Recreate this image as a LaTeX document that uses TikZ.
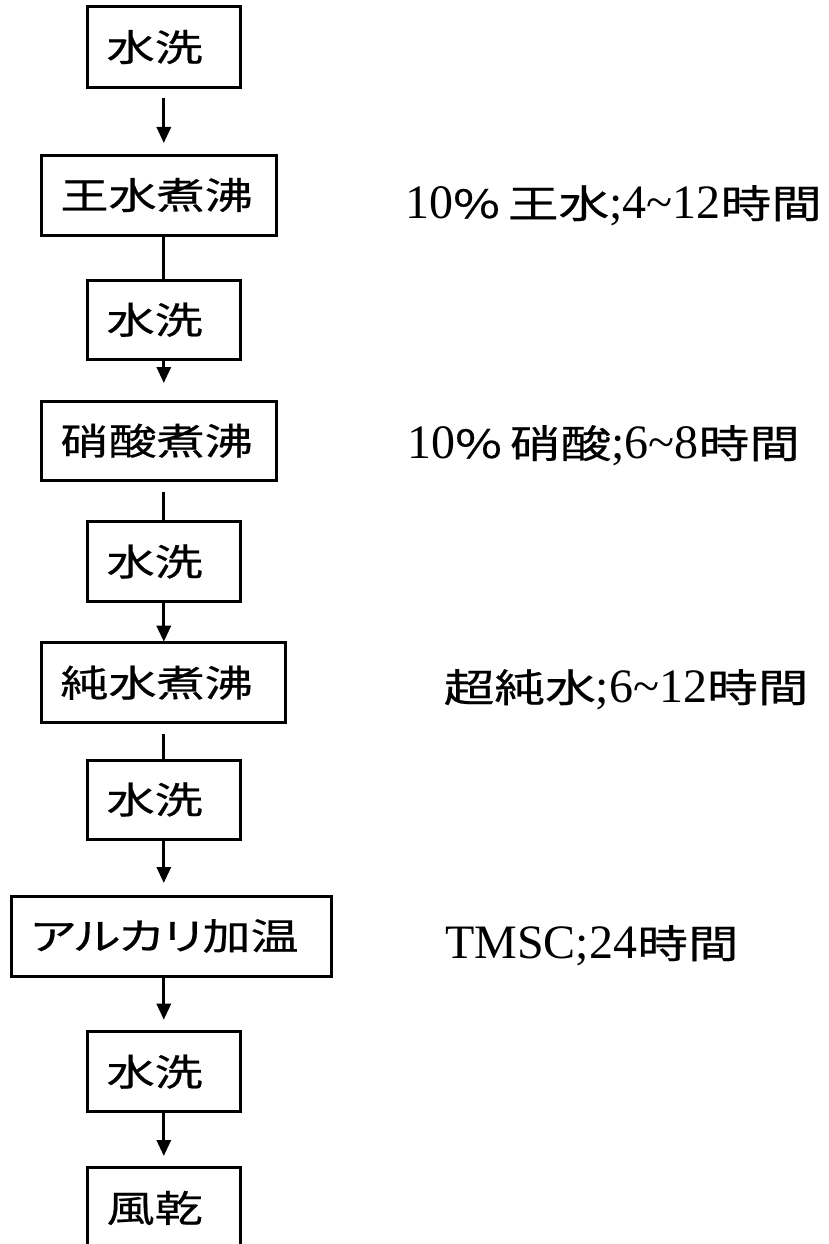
\documentclass[tikz,border=0pt]{standalone}
\usepackage{fontspec}
\usetikzlibrary{arrows.meta}
\setmainfont{Liberation Serif}
\newfontfamily\jp[FakeStretch=1.3,FakeBold=0.5]{Noto Sans CJK JP}
\newfontfamily\jpp[FakeStretch=1.3,FakeBold=0.5,RawFeature=+palt]{Noto Sans CJK JP}
\newcommand\boxfont{\fontsize{37}{40}\jp}
\newcommand\Rt[1]{{\fontsize{48}{52}\selectfont #1}}
\newcommand\Jt[1]{{\fontsize{39}{44}\jp #1}}
\tikzset{
  box/.style={draw, line width=3pt, rectangle, inner xsep=19pt, inner ysep=0pt,
    outer sep=0pt, align=left, font=\boxfont, anchor=north west},
  ln/.style={line width=3pt},
  arr/.style={line width=3pt, -{Triangle[length=16pt,width=14pt]}},
  note/.style={anchor=base west, inner sep=0pt}
}
\begin{document}
\begin{tikzpicture}[x=1pt,y=1pt]
\useasboundingbox (0,0) rectangle (828,-1244);
\clip (0,0) rectangle (828,-1244);
% boxes
\node[box, text width=114.4pt, minimum height=80.6pt] (w1) at (87.6,-6.7) {水洗};
\node[box, text width=197.1pt, minimum height=80pt] (b1) at (41.4,-155) {王水煮沸};
\node[box, text width=114.4pt, minimum height=78.5pt] (w2) at (87.6,-280.5) {水洗};
\node[box, text width=197.1pt, minimum height=79.5pt] (b2) at (41.4,-401) {硝酸煮沸};
\node[box, text width=114.4pt, minimum height=80pt] (w3) at (87.6,-521.5) {水洗};
\node[box, text width=206.2pt, minimum height=80pt] (b3) at (41.4,-642.7) {純水煮沸};
\node[box, text width=114.4pt, minimum height=79pt] (w4) at (87.6,-760) {水洗};
\node[box, text width=282pt, minimum height=80pt, font=\fontsize{37}{40}\jpp] (b4) at (11.7,-896) {アルカリ加温};
\node[box, text width=114.4pt, minimum height=80pt] (w5) at (87.6,-1031.7) {水洗};
\node[box, text width=114.4pt, minimum height=82pt] (w6) at (87.6,-1167) {風乾};
% connectors
\draw[arr, shorten <=11pt, shorten >=12pt] (w1.south) -- (w1.south |- b1.north);
\draw[ln] (w2.north |- b1.south) -- (w2.north);
\draw[arr, shorten >=18pt] (w2.south) -- (w2.south |- b2.north);
\draw[ln, shorten <=11pt] (w3.north |- b2.south) -- (w3.north);
\draw[arr, shorten >=1pt] (w3.south) -- (w3.south |- b3.north);
\draw[ln, shorten <=11pt] (w4.north |- b3.south) -- (w4.north);
\draw[arr, shorten >=13pt] (w4.south) -- (w4.south |- b4.north);
\draw[arr, shorten >=12pt] (w5.north |- b4.south) -- (w5.north);
\draw[arr, shorten >=11pt] (w5.south) -- (w6.north);
% notes
\node[note] (n1) at (405,-218) {\Rt{10}\Jt{\%}\hspace{8pt}\Jt{王水}\Rt{;4\textasciitilde12}\Jt{時間}};
\node[note] (n2) at (407,-458) {\Rt{10}\Jt{\%}\hspace{8pt}\Jt{硝酸}\Rt{;6\textasciitilde8}\Jt{時間}};
\node[note] (n3) at (443.5,-702) {\Jt{超純水}\Rt{;6\textasciitilde12}\Jt{時間}};
\node[note] (n4) at (445,-958) {\Rt{TMSC;24}\Jt{時間}};
\end{tikzpicture}
\end{document}
